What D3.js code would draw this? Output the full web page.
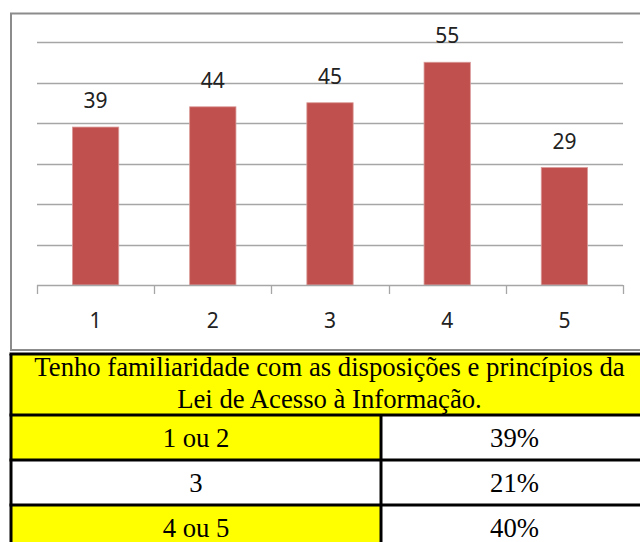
<!DOCTYPE html>
<html><head><meta charset="utf-8">
<script src="https://cdn.jsdelivr.net/npm/d3@7"></script>
<style>html,body{margin:0;padding:0;background:#fff;overflow:hidden}
.serif{font-family:"Liberation Serif","Times New Roman","DejaVu Serif",serif}</style>
</head><body>
<script>
const categories = ["1", "2", "3", "4", "5"];
const values = [39, 44, 45, 55, 29];
const yTicks = [0, 10, 20, 30, 40, 50, 60];
const tableTitle = ["Tenho familiaridade com as disposições e princípios da", "Lei de Acesso à Informação."];
const tableLabels = ["1 ou 2", "3", "4 ou 5"];
const tablePercents = ["39%", "21%", "40%"];
const tableHighlight = [true, false, true];

const W = 640, H = 542;
const svg = d3.select("body").append("svg").attr("width", W).attr("height", H);

// chart frame
svg.append("rect").attr("x", 11).attr("y", 13.5).attr("width", 700).attr("height", 336.5)
  .attr("fill", "#fff").attr("stroke", "#8c8c8c").attr("stroke-width", 2);

const x = d3.scaleBand().domain(categories).range([37, 623]);
const y = d3.scaleLinear().domain([0, 60]).range([285, 42]);

// gridlines
svg.append("g").selectAll("line").data(yTicks.slice(1)).join("line")
  .attr("x1", 37).attr("x2", 623)
  .attr("y1", d => Math.round(y(d)) + 0.5).attr("y2", d => Math.round(y(d)) + 0.5)
  .attr("stroke", "#a6a6a6").attr("stroke-width", 1.3);

// bars
const bw = x.bandwidth() * 0.395;
svg.append("g").selectAll("rect").data(values).join("rect")
  .attr("x", (d, i) => x(categories[i]) + x.bandwidth() / 2 - bw / 2)
  .attr("y", d => y(d))
  .attr("width", bw)
  .attr("height", d => y(0) - y(d))
  .attr("fill", "#c0504d").attr("stroke", "#d99a98").attr("stroke-width", 0.8);

// x axis
const xAxis = d3.axisBottom(x).tickSize(9).tickSizeOuter(9);
const gx = svg.append("g").attr("transform", "translate(0,285)").call(xAxis);
gx.select(".domain").attr("stroke", "#a6a6a6").attr("stroke-width", 1.3);
gx.selectAll(".tick line").remove();
const bounds = categories.map(c => x(c)).concat([x.range()[1]]);
gx.append("g").selectAll("line").data(bounds).join("line")
  .attr("x1", d => Math.round(d) + 0.5).attr("x2", d => Math.round(d) + 0.5)
  .attr("y1", 0).attr("y2", 9).attr("stroke", "#a6a6a6").attr("stroke-width", 1.3);
gx.selectAll(".tick text").attr("y", 0).attr("dy", null)
  .attr("transform", "translate(0,43)")
  .attr("font-family", "'Noto Sans', sans-serif").attr("font-size", 21).attr("fill", "#222");
gx.select(".domain").attr("d", `M37,0.5H623`);

// value labels
svg.append("g").selectAll("text").data(values).join("text")
  .attr("x", (d, i) => x(categories[i]) + x.bandwidth() / 2)
  .attr("y", d => y(d) - 19)
  .attr("text-anchor", "middle")
  .attr("font-family", "'Noto Sans', sans-serif").attr("font-size", 21).attr("fill", "#222")
  .text(d => d);

// table
const tx0 = 11, tx1 = 648, tcol = 381;
const headTop = 354, headBot = 415;
const rowYs = [415, 460, 505, 550];
svg.append("rect").attr("x", tx0).attr("y", headTop).attr("width", 700).attr("height", headBot - headTop).attr("fill", "#ffff00");
tableLabels.forEach((lab, i) => {
  svg.append("rect").attr("x", tx0).attr("y", rowYs[i]).attr("width", tcol - tx0).attr("height", rowYs[i + 1] - rowYs[i])
    .attr("fill", tableHighlight[i] ? "#ffff00" : "#fff");
  svg.append("rect").attr("x", tcol).attr("y", rowYs[i]).attr("width", 700).attr("height", rowYs[i + 1] - rowYs[i])
    .attr("fill", "#fff");
});
const FS = 26.7;
tableTitle.forEach((t, i) => {
  svg.append("text").attr("class", "serif").attr("x", (tx0 + tx1) / 2).attr("y", 376 + i * 32)
    .attr("text-anchor", "middle").style("font-size", FS + "px").attr("fill", "#000").text(t);
});
tableLabels.forEach((lab, i) => {
  svg.append("text").attr("class", "serif").attr("x", (tx0 + tcol) / 2).attr("y", rowYs[i] + 32)
    .attr("text-anchor", "middle").style("font-size", FS + "px").attr("fill", "#000").text(lab);
  svg.append("text").attr("class", "serif").attr("x", (tcol + tx1) / 2).attr("y", rowYs[i] + 32)
    .attr("text-anchor", "middle").style("font-size", FS + "px").attr("fill", "#000").text(tablePercents[i]);
});
const lines = svg.append("g").attr("stroke", "#000").attr("stroke-width", 3);
[headTop, ...rowYs.slice(0, 3)].forEach(yy => lines.append("line").attr("x1", tx0 - 1.5).attr("x2", 700).attr("y1", yy).attr("y2", yy));
lines.append("line").attr("x1", tx0).attr("x2", tx0).attr("y1", headTop).attr("y2", 560);
lines.append("line").attr("x1", tcol).attr("x2", tcol).attr("y1", headBot).attr("y2", 560);
</script>
</body></html>
